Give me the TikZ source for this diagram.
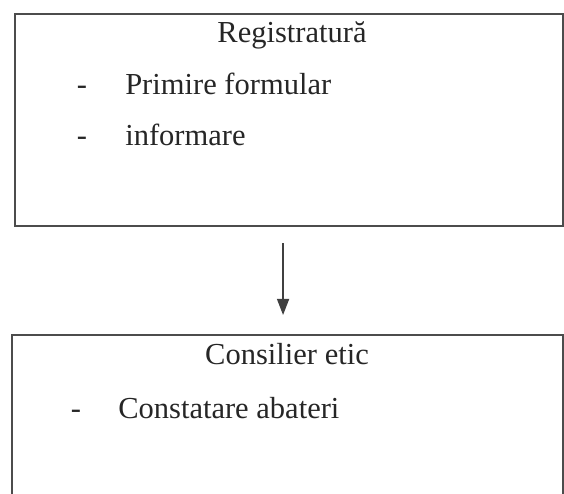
\documentclass[tikz,border=0pt]{standalone}
\usepackage{fontspec}
\setmainfont{Liberation Serif}
\usetikzlibrary{arrows.meta, positioning}

\begin{document}
\begin{tikzpicture}[
  x=0.025cm, y=0.025cm,
  font=\fontsize{21.7}{26}\selectfont,
  panel/.style={draw=black!70, line width=1.4pt, inner sep=0pt,
                anchor=north west},
  label/.style={text=black!85, inner sep=0pt},
  arr/.style={-{Triangle[length=0.4cm, width=0.3cm]}, line width=1pt,
              draw=black!75}
]
  \useasboundingbox (0,0) rectangle (564,493);

  \node[panel, minimum width=13.7cm, minimum height=5.3cm] (reg) at (14,480) {};
  \node[label, anchor=base] (regtitle) at (292,450) {Registratură};
  \node[label, anchor=base] (regdash1) at (82,398) {-};
  \node[label, anchor=base west] (regitem1) at (125,398) {Primire formular};
  \node[label, below=1.25cm of regdash1.base, anchor=base] (regdash2) {-};
  \node[label, below=1.25cm of regitem1.base west, anchor=base west] (regitem2) {informare};

  \node[panel, minimum width=13.775cm, minimum height=4.475cm] (cons) at (11,159) {};
  \node[label, anchor=base] (constitle) at (287,129) {Consilier etic};
  \node[label, anchor=base] (consdash1) at (76,75) {-};
  \node[label, anchor=base west] (consitem1) at (118,75) {Constatare abateri};

  \draw[arr, shorten <=0.4cm, shorten >=0.475cm]
    ([xshift=-0.15cm]reg.south) -- ([xshift=-0.15cm]reg.south |- cons.north);
\end{tikzpicture}
\end{document}
